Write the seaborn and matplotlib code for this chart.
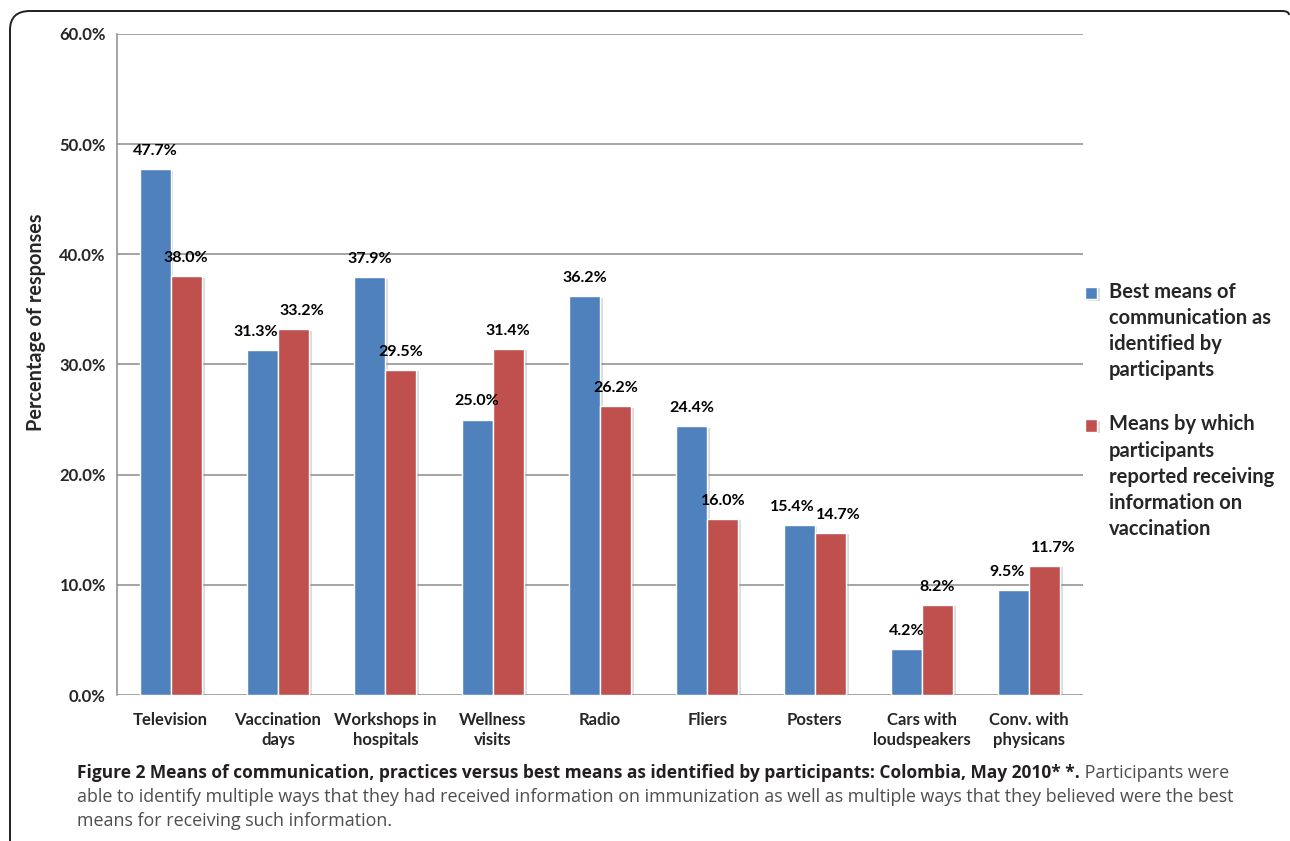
import pandas as pd
import seaborn as sns
import matplotlib.pyplot as plt
import matplotlib.patheffects as pe
from matplotlib.path import Path
from matplotlib.patches import PathPatch
from matplotlib.ticker import FuncFormatter

# Daten aus der Abbildung
categories = ["Television", "Vaccination\ndays", "Workshops in\nhospitals", "Wellness\nvisits",
              "Radio", "Fliers", "Posters", "Cars with\nloudspeakers", "Conv. with\nphysicans"]
best_means = [47.7, 31.3, 37.9, 25.0, 36.2, 24.4, 15.4, 4.2, 9.5]
received = [38.0, 33.2, 29.5, 31.4, 26.2, 16.0, 14.7, 8.2, 11.7]
series_names = ["Best means of\ncommunication as\nidentified by\nparticipants",
                "Means by which\nparticipants\nreported receiving\ninformation on\nvaccination"]
y_ticks = [0, 10, 20, 30, 40, 50, 60]

df = pd.DataFrame({
    "category": categories * 2,
    "value": best_means + received,
    "series": [series_names[0]] * len(categories) + [series_names[1]] * len(categories),
})

sns.set_style("white")
plt.rcParams['font.family'] = ['Lato', 'DejaVu Sans']

fig = plt.figure(figsize=(12.9, 8.41), dpi=100)
ax = fig.add_axes([0.0907, 0.1736, 0.7488, 0.786])

sns.barplot(data=df, x="category", y="value", hue="series", order=categories,
            hue_order=series_names, palette=["#4F81BD", "#C0504D"], saturation=1,
            width=0.58, edgecolor="white", linewidth=1, ax=ax, zorder=3,
            err_kws={"linewidth": 0})

# leichter Schatten an den Balken
for patch in ax.patches:
    patch.set_path_effects([pe.SimplePatchShadow(offset=(2, -1), shadow_rgbFace="#999999", alpha=0.35),
                            pe.Normal()])

# Werte über den Balken; bei fast gleich hohen Paaren etwas auseinanderschieben
blue_bars, red_bars = ax.containers[0], ax.containers[1]
for b, r in zip(blue_bars, red_bars):
    close = abs(b.get_height() - r.get_height()) < 2.5
    for bar, dx in ((b, -5 if close else 0), (r, 6 if close else 0)):
        ax.annotate(f"{bar.get_height():.1f}%", (bar.get_x() + bar.get_width() / 2, bar.get_height()),
                    xytext=(dx, 8), textcoords="offset points", ha="center", va="bottom",
                    fontsize=11.5, fontweight="bold", color="black")

ax.set_ylim(0, 60)
ax.set_yticks(y_ticks)
ax.yaxis.set_major_formatter(FuncFormatter(lambda v, p: f"{v:.1f}%"))
ax.set_xlim(-0.5, len(categories) - 0.5)
ax.grid(axis="y", color="#8c8c8c", linewidth=1.1, zorder=0)
ax.set_axisbelow(True)
for side in ["top", "right", "bottom"]:
    ax.spines[side].set_visible(False)
ax.spines["left"].set_color("#8c8c8c")
ax.spines["left"].set_linewidth(1.1)
ax.tick_params(axis="x", length=0, labelsize=12, pad=12)
ax.tick_params(axis="y", length=4, width=1.1, color="#8c8c8c", labelsize=12, pad=4)
for lab in ax.get_xticklabels():
    lab.set_fontweight("bold")
    lab.set_linespacing(1.35)
for lab in ax.get_yticklabels():
    lab.set_fontweight("bold")
ax.set_xlabel("")
ax.set_ylabel("Percentage of responses", fontsize=14.3, fontweight="bold")
ax.yaxis.set_label_coords(-0.0735, 0.564)

leg = ax.legend(loc="upper left", bbox_to_anchor=(1085 / 1290, 1 - 282 / 841),
                bbox_transform=fig.transFigure, frameon=False,
                prop={"size": 14.5, "weight": "bold"}, handlelength=0.6, handleheight=0.6,
                handletextpad=0.6, labelspacing=1.7, borderaxespad=0, borderpad=0)
line_pt = 26 * 72 / 100
for t, h in zip(leg.get_texts(), leg.get_patches()):
    t.set_linespacing(1.38)
    n_lines = t.get_text().count("\n") + 1
    # Marker auf Höhe der ersten Textzeile
    h.set_y(h.get_y() + (n_lines - 1) / 2 * line_pt)

# Rahmen oben/links mit abgerundeter Ecke
W, H = 1290, 841
def fx(x): return x / W
def fy(y): return 1 - y / H
verts = [(fx(10), fy(841)), (fx(10), fy(30)), (fx(10), fy(11)), (fx(30), fy(11)),
         (fx(1282), fy(11)), (fx(1289), fy(11)), (fx(1289), fy(15))]
codes = [Path.MOVETO, Path.LINETO, Path.CURVE3, Path.CURVE3, Path.LINETO, Path.CURVE3, Path.CURVE3]
fig.add_artist(PathPatch(Path(verts, codes), transform=fig.transFigure, fill=False,
                         edgecolor="#231f20", linewidth=1.4))

# Bildunterschrift
cap_font = ["Open Sans", "DejaVu Sans"]
cap_bold = "Figure 2 Means of communication, practices versus best means as identified by participants: Colombia, May 2010* *."
t1 = fig.text(fx(77), fy(773), cap_bold, fontsize=12.55, fontweight="bold", color="#231f20",
              family=cap_font, va="center")
fig.canvas.draw()
bb = t1.get_window_extent()
fig.text(bb.x1 / W, fy(773), " Participants were", fontsize=12.9, color="#4d4d4d",
         family=cap_font, va="center")
fig.text(fx(77), fy(797), "able to identify multiple ways that they had received information on immunization as well as multiple ways that they believed were the best",
         fontsize=12.9, color="#4d4d4d", family=cap_font, va="center")
fig.text(fx(77), fy(821), "means for receiving such information.",
         fontsize=12.9, color="#4d4d4d", family=cap_font, va="center")

fig.savefig("out.png", dpi=100)
